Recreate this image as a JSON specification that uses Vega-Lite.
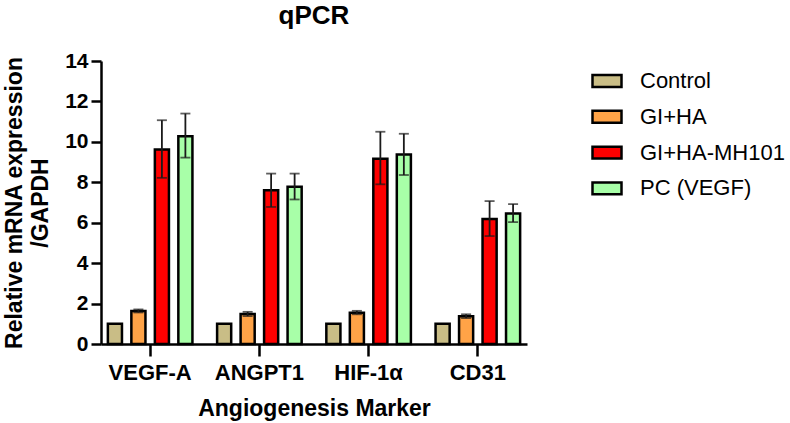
{
  "$schema": "https://vega.github.io/schema/vega-lite/v6.json",
  "width": 426,
  "height": 283,
  "autosize": {"type": "none"},
  "padding": {"left": 101, "top": 61, "right": 263, "bottom": 79},
  "background": "white",
  "config": {
    "font": "Liberation Sans",
    "view": {"stroke": null}
  },
  "title": {
    "text": "qPCR",
    "fontSize": 26,
    "fontWeight": "bold",
    "font": "Liberation Sans",
    "anchor": "middle",
    "offset": 21,
    "color": "black"
  },
  "data": {
    "values": [
      {"marker": "VEGF-A", "group": "Control", "mean": 1.0, "lo": null, "hi": null},
      {"marker": "VEGF-A", "group": "GI+HA", "mean": 1.63, "lo": 1.56, "hi": 1.71},
      {"marker": "VEGF-A", "group": "GI+HA-MH101", "mean": 9.62, "lo": 8.22, "hi": 11.07},
      {"marker": "VEGF-A", "group": "PC (VEGF)", "mean": 10.28, "lo": 9.22, "hi": 11.4},
      {"marker": "ANGPT1", "group": "Control", "mean": 1.0, "lo": null, "hi": null},
      {"marker": "ANGPT1", "group": "GI+HA", "mean": 1.48, "lo": 1.38, "hi": 1.59},
      {"marker": "ANGPT1", "group": "GI+HA-MH101", "mean": 7.6, "lo": 6.78, "hi": 8.43},
      {"marker": "ANGPT1", "group": "PC (VEGF)", "mean": 7.78, "lo": 7.15, "hi": 8.43},
      {"marker": "HIF-1α", "group": "Control", "mean": 1.0, "lo": null, "hi": null},
      {"marker": "HIF-1α", "group": "GI+HA", "mean": 1.55, "lo": 1.47, "hi": 1.64},
      {"marker": "HIF-1α", "group": "GI+HA-MH101", "mean": 9.17, "lo": 7.9, "hi": 10.5},
      {"marker": "HIF-1α", "group": "PC (VEGF)", "mean": 9.37, "lo": 8.36, "hi": 10.4},
      {"marker": "CD31", "group": "Control", "mean": 1.0, "lo": null, "hi": null},
      {"marker": "CD31", "group": "GI+HA", "mean": 1.37, "lo": 1.28, "hi": 1.47},
      {"marker": "CD31", "group": "GI+HA-MH101", "mean": 6.18, "lo": 5.34, "hi": 7.07},
      {"marker": "CD31", "group": "PC (VEGF)", "mean": 6.45, "lo": 6.03, "hi": 6.92}
    ]
  },
  "encoding": {
    "x": {
      "field": "marker",
      "type": "nominal",
      "sort": ["VEGF-A", "ANGPT1", "HIF-1α", "CD31"],
      "scale": {"paddingInner": 0.2, "paddingOuter": 0.05},
      "axis": {
        "title": "Angiogenesis Marker",
        "titleFontSize": 23,
        "titleFontWeight": "bold",
        "titleColor": "black",
        "titlePadding": 14,
        "labelAngle": 0,
        "labelFontSize": 22,
        "labelFontWeight": "bold",
        "labelColor": "black",
        "labelPadding": 6,
        "tickSize": 12,
        "tickWidth": 2.5,
        "tickColor": "black",
        "domainColor": "black",
        "domainWidth": 2.5
      }
    },
    "xOffset": {
      "field": "group",
      "type": "nominal",
      "sort": ["Control", "GI+HA", "GI+HA-MH101", "PC (VEGF)"],
      "scale": {"paddingInner": 0.4, "paddingOuter": 0.06}
    }
  },
  "layer": [
    {
      "mark": {"type": "bar", "stroke": "black", "strokeWidth": 2.5},
      "encoding": {
        "y": {
          "field": "mean",
          "type": "quantitative",
          "scale": {"domain": [0, 14], "nice": false},
          "axis": {
            "title": ["Relative  mRNA expression", "/GAPDH"],
            "titleFontSize": 23,
            "titleFontWeight": "bold",
            "titleColor": "black",
            "titleLineHeight": 26,
            "titlePadding": 12,
            "values": [0, 2, 4, 6, 8, 10, 12, 14],
            "grid": false,
            "labelFontSize": 21,
            "labelFontWeight": "bold",
            "labelColor": "black",
            "labelPadding": 3,
            "tickSize": 10,
            "tickWidth": 2.5,
            "tickColor": "black",
            "domainColor": "black",
            "domainWidth": 2.5
          }
        },
        "fill": {
          "field": "group",
          "type": "nominal",
          "sort": ["Control", "GI+HA", "GI+HA-MH101", "PC (VEGF)"],
          "scale": {
            "domain": ["Control", "GI+HA", "GI+HA-MH101", "PC (VEGF)"],
            "range": ["#C9BD86", "#FFA347", "#FF0000", "#A8FFA8"]
          },
          "legend": {
            "title": null,
            "orient": "none",
            "legendX": 490,
            "legendY": 4,
            "padding": 0,
            "symbolType": "M-1,-0.41H1V0.41H-1Z",
            "symbolSize": 841,
            "symbolStrokeColor": "black",
            "symbolStrokeWidth": 2.5,
            "labelFontSize": 22,
            "labelColor": "black",
            "labelOffset": 17,
            "rowPadding": 8.8,
            "labelLimit": 300
          }
        }
      }
    },
    {
      "mark": {"type": "rule", "color": "#1a1a1a", "strokeWidth": 1.8},
      "encoding": {
        "y": {"field": "lo", "type": "quantitative"},
        "y2": {"field": "hi"}
      }
    },
    {
      "mark": {"type": "tick", "color": "#1a1a1a", "thickness": 1.8, "size": 10},
      "encoding": {
        "y": {"field": "lo", "type": "quantitative"}
      }
    },
    {
      "mark": {"type": "tick", "color": "#1a1a1a", "thickness": 1.8, "size": 10},
      "encoding": {
        "y": {"field": "hi", "type": "quantitative"}
      }
    }
  ]
}
